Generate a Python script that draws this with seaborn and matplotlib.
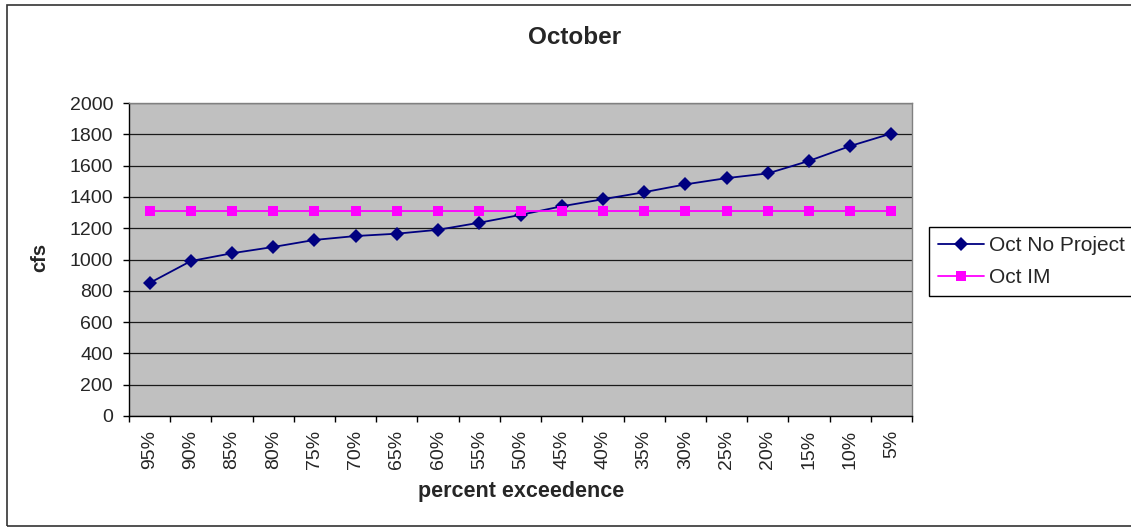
import numpy as np
import pandas as pd
import matplotlib
matplotlib.use("Agg")
import matplotlib.pyplot as plt
from matplotlib.patches import Rectangle
from matplotlib.ticker import FixedLocator, MultipleLocator
import seaborn as sns

# Exceedence categories and flows (cfs)
categories = ["95%", "90%", "85%", "80%", "75%", "70%", "65%", "60%", "55%", "50%",
              "45%", "40%", "35%", "30%", "25%", "20%", "15%", "10%", "5%"]
no_project = [850, 990, 1040, 1080, 1125, 1150, 1165, 1190, 1235, 1285,
              1340, 1385, 1430, 1480, 1520, 1550, 1630, 1725, 1805]
im_flow = [1310] * len(categories)
series_names = ["Oct No Project", "Oct IM"]

df = pd.DataFrame({
    "pos": list(range(len(categories))) * 2,
    "cfs": no_project + im_flow,
    "series": [series_names[0]] * len(categories) + [series_names[1]] * len(categories),
})

sns.set_style("white")
plt.rcParams["font.family"] = ["Liberation Sans", "DejaVu Sans"]

W, H = 1131, 527
fig = plt.figure(figsize=(W / 100, H / 100), dpi=100)
ax = fig.add_axes([129 / W, 1 - 416 / H, (912 - 129) / W, (416 - 103) / H])
ax.set_facecolor("#C0C0C0")

sns.lineplot(data=df, x="pos", y="cfs", hue="series", style="series",
             palette={series_names[0]: "#000080", series_names[1]: "#FF00FF"},
             markers={series_names[0]: "D", series_names[1]: "s"},
             dashes=False, markersize=7, markeredgewidth=0, linewidth=1.3,
             ax=ax, legend=True)

ax.set_xlim(-0.5, len(categories) - 0.5)
ax.set_ylim(0, 2000)
ax.yaxis.set_major_locator(MultipleLocator(200))
ax.set_xticks(range(len(categories)))
ax.set_xticklabels(categories, rotation=90)
ax.xaxis.set_minor_locator(FixedLocator(np.arange(-0.5, len(categories), 1.0)))
ax.tick_params(axis="x", which="major", length=0, pad=10, labelsize=14)
ax.tick_params(axis="x", which="minor", length=4.5, width=1, color="black", direction="out", bottom=True)
ax.tick_params(axis="y", which="major", length=4.5, width=1, color="black", direction="out",
               left=True, pad=7, labelsize=14)
ax.grid(axis="y", color="#1a1a1a", linewidth=0.9)
ax.grid(axis="x", visible=False)
ax.set_axisbelow(True)

for side in ("left", "bottom"):
    ax.spines[side].set_color("black")
    ax.spines[side].set_linewidth(1.0)
for side in ("top", "right"):
    ax.spines[side].set_color("#808080")
    ax.spines[side].set_linewidth(1.0)

ax.set_xlabel("")
ax.set_ylabel("")
fig.text(40 / W, 1 - 257 / H, "cfs", rotation=90, ha="center", va="center",
         fontsize=14.5, fontweight="bold")
fig.text(521 / W, 1 - 492 / H, "percent exceedence", ha="center", va="center",
         fontsize=15.5, fontweight="bold")
fig.text(575 / W, 1 - 38 / H, "October", ha="center", va="center",
         fontsize=17.5, fontweight="bold")

handles, labels = ax.get_legend_handles_labels()
ax.legend(handles, labels, loc="upper left", bbox_to_anchor=(929 / W, 1 - 227 / H),
          bbox_transform=fig.transFigure, frameon=True, fancybox=False,
          edgecolor="black", framealpha=1, fontsize=15, handlelength=2.2,
          handletextpad=0.25, borderpad=0.45, labelspacing=0.6, borderaxespad=0)
ax.get_legend().get_frame().set_linewidth(1.0)

# Chart-area border
fig.patches.append(Rectangle((7 / W, 1 - 526 / H), 1.2, (526 - 5) / H,
                             transform=fig.transFigure, fill=False,
                             edgecolor="#333333", linewidth=1.2))

fig.savefig("out.png", dpi=100)
